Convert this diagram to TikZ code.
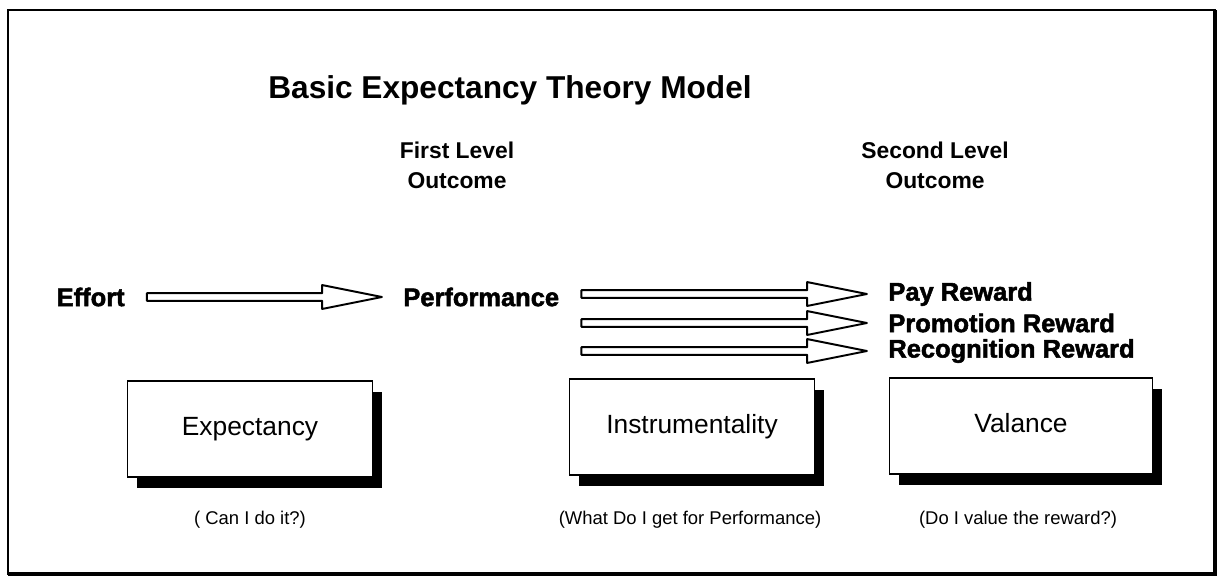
\documentclass[tikz,border=0pt]{standalone}
\usepackage{fontspec}
\setmainfont{Liberation Sans}
\newfontfamily\heavyfont[FakeBold=2]{Liberation Sans Bold}
\usetikzlibrary{positioning,calc,shadows}
\tikzset{
  titletext/.style={font=\bfseries\fontsize{18}{22}\selectfont},
  headtext/.style={
    font=\bfseries\fontsize{13}{17}\selectfont,
    align=center
  },
  itemtext/.style={
    font=\heavyfont\fontsize{14.5}{17}\selectfont,
    inner sep=0pt
  },
  conceptbox/.style={
    draw=black,
    line width=0.8pt,
    fill=white,
    minimum width=4.9cm,
    minimum height=1.92cm,
    text height=11pt,
    text depth=3.5pt,
    font=\fontsize{15}{18}\selectfont,
    drop shadow={shadow xshift=5.5pt,shadow yshift=-6pt,fill=black,opacity=1}
  },
  notetext/.style={font=\fontsize{10.5}{13}\selectfont},
  hollowarrow/.style={
    draw=black,
    line width=1.1pt,
    line join=round,
    fill=white,
    to path={let \p1=(\tikztostart), \p2=(\tikztotarget) in
      (\x1+12.5pt,\y2+2.2pt) -- (\x2-46pt,\y2+2.2pt) -- (\x2-46pt,\y2+6.8pt)
      -- (\x2-12pt,\y2) -- (\x2-46pt,\y2-6.8pt) -- (\x2-46pt,\y2-2.2pt)
      -- (\x1+12.5pt,\y2-2.2pt) -- cycle}
  }
}
\begin{document}
\begin{tikzpicture}[x=0.02cm,y=-0.02cm]
  \useasboundingbox (0,0) rectangle (1226,585);
  % frame
  \draw[line width=0.8pt] (8,10) rectangle (1215,574);
  \draw[line width=2.6pt] (1215,10) -- (1215,574) -- (8,574);

  \node[titletext] (title) at (510,90) {Basic Expectancy Theory Model};
  \node[headtext] (first) at (457,165) {First Level\\Outcome};
  \node[headtext] (second) at (935,165) {Second Level\\Outcome};

  \node[itemtext, anchor=east] (effort) at (125,297) {Effort};
  \node[itemtext, anchor=west] (perf) at (403,297) {Performance};
  \node[itemtext, anchor=west] (pay) at (888,294) {Pay Reward};
  \node[itemtext, anchor=west] (promo) at (888,323) {Promotion Reward};
  \node[itemtext, anchor=west] (recog) at (888,351) {Recognition Reward};

  \node[conceptbox] (expbox) at (250,429) {Expectancy};
  \node[conceptbox] (instbox) at (692,427) {Instrumentality};
  \node[conceptbox, minimum width=5.25cm] (valbox) at (1021,426) {Valance};

  \node[notetext] (expnote) at (250,520) {( Can I do it?)};
  \node[notetext] (instnote) at (690,520) {(What Do I get for Performance)};
  \node[notetext] (valnote) at (1018,520) {(Do I value the reward?)};

  \draw[hollowarrow] (effort.east) to (perf.west);
  \draw[hollowarrow] (perf.east) to (pay.west);
  \draw[hollowarrow] (perf.east) to (promo.west);
  \draw[hollowarrow] (perf.east) to (recog.west);
\end{tikzpicture}
\end{document}
